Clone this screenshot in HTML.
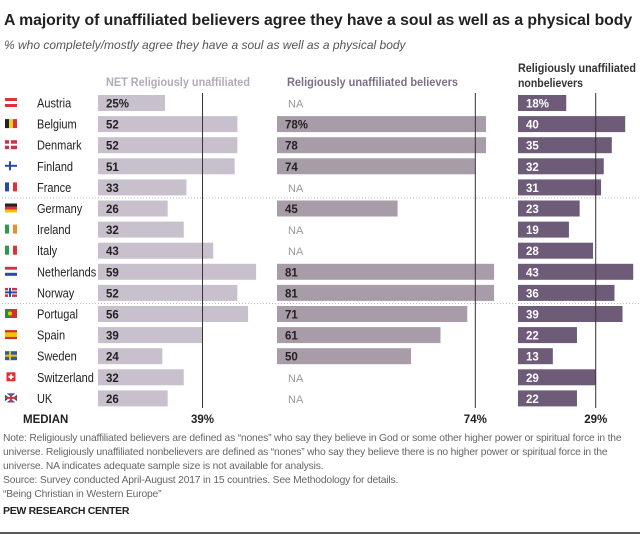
<!DOCTYPE html>
<html><head><meta charset="utf-8">
<style>
body{margin:0;background:#fff;font-family:"Liberation Sans",sans-serif;}
#wrap{position:relative;width:640px;height:535px;overflow:hidden;}
.t{position:absolute;white-space:nowrap;}
</style></head>
<body>
<div id="wrap">
<div class="t" style="left:4px;top:12px;font-size:15.8px;font-weight:bold;color:#222;letter-spacing:-0.05px">A majority of unaffiliated believers agree they have a soul as well as a physical body</div>
<div class="t" style="left:4px;top:38px;font-size:12px;font-style:italic;color:#555">% who completely/mostly agree they have a soul as well as a physical body</div>
<svg id="c" width="640" height="535" style="position:absolute;left:0;top:0"></svg>
<div class="t" style="left:3px;top:432px;font-size:10.3px;line-height:14px;color:#666;letter-spacing:-0.18px">Note: Religiously unaffiliated believers are defined as “nones” who say they believe in God or some other higher power or spiritual force in the<br>universe. Religiously unaffiliated nonbelievers are defined as “nones” who say they believe there is no higher power or spiritual force in the<br>universe. NA indicates adequate sample size is not available for analysis.<br>Source: Survey conducted April-August 2017 in 15 countries. See Methodology for details.<br>“Being Christian in Western Europe”</div>
<div class="t" style="left:3px;top:505px;font-size:10.5px;font-weight:bold;color:#222;letter-spacing:-0.3px">PEW RESEARCH CENTER</div>
</div>
<script>
const countries=["Austria","Belgium","Denmark","Finland","France","Germany","Ireland","Italy","Netherlands","Norway","Portugal","Spain","Sweden","Switzerland","UK"];
const netValues=[25,52,52,51,33,26,32,43,59,52,56,39,24,32,26];
const believerValues=[null,78,78,74,null,45,null,null,81,81,71,61,50,null,null];
const nonbelieverValues=[18,40,35,32,31,23,19,28,43,36,39,22,13,29,22];
const medians=[39,74,29];
const headers=["NET Religiously unaffiliated","Religiously unaffiliated believers","Religiously unaffiliated nonbelievers"];
const NS="http://www.w3.org/2000/svg";
const svg=document.getElementById('c');
function mk(tag,attrs,parent){const e=document.createElementNS(NS,tag);for(const k in attrs)e.setAttribute(k,attrs[k]);(parent||svg).appendChild(e);return e;}
const scale=2.68;
const cols=[{x0:98,fill:"#c9c0cd",txt:"#222",series:netValues,hc:"#b3aab9"},
{x0:277,fill:"#a99ca9",txt:"#222",series:believerValues,hc:"#7f6f86"},
{x0:518,fill:"#6d5b78",txt:"#fff",series:nonbelieverValues,hc:"#333"}];
function yc(i){return 103+i*21.1;}
function xv(c,v){return cols[c].x0+v*scale;}
let h=mk('text',{x:106,y:86,'font-size':11.5,'font-weight':'bold',fill:cols[0].hc,textLength:144,lengthAdjust:'spacingAndGlyphs'});h.textContent=headers[0];

h=mk('text',{x:287,y:86,'font-size':11.5,'font-weight':'bold',fill:cols[1].hc,textLength:171,lengthAdjust:'spacingAndGlyphs'});h.textContent=headers[1];

h=mk('text',{x:518,y:72,'font-size':11.5,'font-weight':'bold',fill:cols[2].hc,textLength:118,lengthAdjust:'spacingAndGlyphs'});h.textContent="Religiously unaffiliated";

h=mk('text',{x:518,y:87,'font-size':11.5,'font-weight':'bold',fill:cols[2].hc,textLength:65,lengthAdjust:'spacingAndGlyphs'});h.textContent="nonbelievers";

[4.5,9.5].forEach(k=>{const l=mk('line',{x1:2,x2:640,y1:yc(k),y2:yc(k),stroke:'#bbb','stroke-dasharray':'1,2'});
});
const flags={
Austria:[["h","#e0303a","#fff","#e0303a"]],Belgium:[["v","#222","#f5d020","#e0303a"]],Denmark:"dk",Finland:"fi",France:[["v","#2a4aa8","#fff","#e0303a"]],
Germany:[["h","#222","#e0303a","#f5c400"]],Ireland:[["v","#2a9a50","#fff","#f08a30"]],Italy:[["v","#2a9a50","#fff","#e0303a"]],Netherlands:[["h","#d03040","#fff","#2a4aa8"]],
Norway:"no",Portugal:"pt",Spain:[["hs","#d03030","#f5c400","#d03030"]],Sweden:"se",Switzerland:"ch",UK:"uk"};
function flag(name,y){
 const g=mk('g',{transform:`translate(5,${y-5})`});
 
 const f=flags[name];const W=12,H=9;
 if(Array.isArray(f)){const [t,a,b,c]=f[0];
  if(t=="v"){[a,b,c].forEach((col,i)=>mk('rect',{x:i*4,y:0,width:4,height:H,fill:col},g));}
  else if(t=="h"){[a,b,c].forEach((col,i)=>mk('rect',{x:0,y:i*3,width:W,height:3,fill:col},g));}
  else{mk('rect',{x:0,y:0,width:W,height:H,fill:a},g);mk('rect',{x:0,y:2.2,width:W,height:4.6,fill:b},g);}
 } else if(f=="dk"||f=="no"||f=="fi"||f=="se"){
  const bg={dk:"#d03040",no:"#d03040",fi:"#fff",se:"#2a5aa8"}[f],cr={dk:"#fff",no:"#2a4aa8",fi:"#2a4aa8",se:"#f5c400"}[f];
  mk('rect',{x:0,y:0,width:W,height:H,fill:bg},g);
  if(f=="no"){mk('rect',{x:3,y:0,width:4,height:H,fill:'#fff'},g);mk('rect',{x:0,y:2.5,width:W,height:4,fill:'#fff'},g);}
  mk('rect',{x:4,y:0,width:2,height:H,fill:cr},g);mk('rect',{x:0,y:3.5,width:W,height:2,fill:cr},g);
 } else if(f=="pt"){mk('rect',{x:0,y:0,width:5,height:H,fill:'#2a8a40'},g);mk('rect',{x:5,y:0,width:7,height:H,fill:'#d03030'},g);mk('circle',{cx:5,cy:4.5,r:2,fill:'#f5c400'},g);}
 else if(f=="ch"){mk('rect',{x:1.5,y:0,width:9,height:H,fill:'#e03030'},g);mk('rect',{x:5,y:2,width:2,height:5,fill:'#fff'},g);mk('rect',{x:3.5,y:3.5,width:5,height:2,fill:'#fff'},g);}
 else if(f=="uk"){mk('rect',{x:0,y:0,width:W,height:H,fill:'#2a4aa8'},g);mk('path',{d:'M0 0L12 9M12 0L0 9',stroke:'#fff','stroke-width':2},g);mk('rect',{x:5,y:0,width:2,height:H,fill:'#d03040'},g);mk('rect',{x:0,y:3.5,width:W,height:2,fill:'#d03040'},g);}
}
countries.forEach((c,i)=>{
 const y=yc(i);
 flag(c,y);
 const t=mk('text',{x:37,y:y+4.5,'font-size':12.5,fill:'#222',transform:`translate(37,0) scale(0.88,1) translate(-37,0)`});t.textContent=c;
 
 cols.forEach((col,ci)=>{
  const v=col.series[i];
  if(v==null){const na=mk('text',{x:col.x0+11,y:y+4.5,'font-size':11,fill:'#999'});na.textContent="NA";
   return;}
  const r=mk('rect',{x:col.x0,y:y-8,width:xv(ci,v)-col.x0,height:16,fill:col.fill});
  
  const lt=mk('text',{x:col.x0+8,y:y+4.5,'font-size':11.5,'font-weight':'bold',fill:col.txt});
  lt.textContent=v+(i==0||(ci==1&&i==1)?"%":"");
  
 });
});
cols.forEach((col,ci)=>{
 const x=xv(ci,medians[ci]);
 const l=mk('line',{x1:x,x2:x,y1:93,y2:408,stroke:'#333','stroke-width':1});
 
 const t=mk('text',{x:x,y:423,'font-size':11.5,'font-weight':'bold',fill:'#222','text-anchor':'middle'});t.textContent=medians[ci]+"%";
 
});
const ml=mk('text',{x:23,y:423,'font-size':11.5,'font-weight':'bold',fill:'#222'});ml.textContent="MEDIAN";

const bl=mk('line',{x1:0,x2:640,y1:533,y2:533,stroke:'#222','stroke-width':1.5});

</script>
</body></html>
